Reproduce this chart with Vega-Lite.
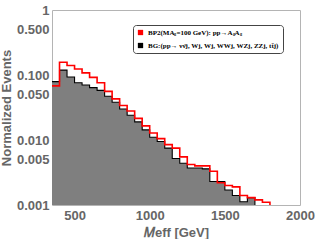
{
  "$schema": "https://vega.github.io/schema/vega-lite/v6.json",
  "width": 248,
  "height": 195,
  "padding": {"left": 0, "top": 4, "right": 0, "bottom": 0},
  "background": "white",
  "config": {
    "view": {"stroke": "#b4b4b4", "strokeWidth": 1},
    "axis": {
      "domain": false,
      "grid": false,
      "ticks": false,
      "labelFont": "Liberation Sans",
      "labelFontWeight": "bold",
      "labelFontSize": 13,
      "labelColor": "#666666",
      "titleFont": "Liberation Sans",
      "titleFontWeight": "bold",
      "titleFontSize": 13,
      "titleColor": "#666666"
    }
  },
  "data": {
    "values": [
      {"k": "BP2", "s": "BP2(MAₛ=100 GeV): pp→AₛAₛ", "lo": 350, "v": 0.068},
      {"k": "BP2", "s": "BP2(MAₛ=100 GeV): pp→AₛAₛ", "lo": 400, "v": 0.157},
      {"k": "BP2", "s": "BP2(MAₛ=100 GeV): pp→AₛAₛ", "lo": 450, "v": 0.140},
      {"k": "BP2", "s": "BP2(MAₛ=100 GeV): pp→AₛAₛ", "lo": 500, "v": 0.124},
      {"k": "BP2", "s": "BP2(MAₛ=100 GeV): pp→AₛAₛ", "lo": 550, "v": 0.108},
      {"k": "BP2", "s": "BP2(MAₛ=100 GeV): pp→AₛAₛ", "lo": 600, "v": 0.092},
      {"k": "BP2", "s": "BP2(MAₛ=100 GeV): pp→AₛAₛ", "lo": 650, "v": 0.076},
      {"k": "BP2", "s": "BP2(MAₛ=100 GeV): pp→AₛAₛ", "lo": 700, "v": 0.056},
      {"k": "BP2", "s": "BP2(MAₛ=100 GeV): pp→AₛAₛ", "lo": 750, "v": 0.043},
      {"k": "BP2", "s": "BP2(MAₛ=100 GeV): pp→AₛAₛ", "lo": 800, "v": 0.034},
      {"k": "BP2", "s": "BP2(MAₛ=100 GeV): pp→AₛAₛ", "lo": 850, "v": 0.028},
      {"k": "BP2", "s": "BP2(MAₛ=100 GeV): pp→AₛAₛ", "lo": 900, "v": 0.0215},
      {"k": "BP2", "s": "BP2(MAₛ=100 GeV): pp→AₛAₛ", "lo": 950, "v": 0.0165},
      {"k": "BP2", "s": "BP2(MAₛ=100 GeV): pp→AₛAₛ", "lo": 1000, "v": 0.0128},
      {"k": "BP2", "s": "BP2(MAₛ=100 GeV): pp→AₛAₛ", "lo": 1050, "v": 0.0105},
      {"k": "BP2", "s": "BP2(MAₛ=100 GeV): pp→AₛAₛ", "lo": 1100, "v": 0.0085},
      {"k": "BP2", "s": "BP2(MAₛ=100 GeV): pp→AₛAₛ", "lo": 1150, "v": 0.0075},
      {"k": "BP2", "s": "BP2(MAₛ=100 GeV): pp→AₛAₛ", "lo": 1200, "v": 0.0055},
      {"k": "BP2", "s": "BP2(MAₛ=100 GeV): pp→AₛAₛ", "lo": 1250, "v": 0.0042},
      {"k": "BP2", "s": "BP2(MAₛ=100 GeV): pp→AₛAₛ", "lo": 1300, "v": 0.0040},
      {"k": "BP2", "s": "BP2(MAₛ=100 GeV): pp→AₛAₛ", "lo": 1350, "v": 0.0040},
      {"k": "BP2", "s": "BP2(MAₛ=100 GeV): pp→AₛAₛ", "lo": 1400, "v": 0.0033},
      {"k": "BP2", "s": "BP2(MAₛ=100 GeV): pp→AₛAₛ", "lo": 1450, "v": 0.0022},
      {"k": "BP2", "s": "BP2(MAₛ=100 GeV): pp→AₛAₛ", "lo": 1500, "v": 0.0020},
      {"k": "BP2", "s": "BP2(MAₛ=100 GeV): pp→AₛAₛ", "lo": 1550, "v": 0.0019},
      {"k": "BP2", "s": "BP2(MAₛ=100 GeV): pp→AₛAₛ", "lo": 1600, "v": 0.0014},
      {"k": "BP2", "s": "BP2(MAₛ=100 GeV): pp→AₛAₛ", "lo": 1650, "v": 0.0013},
      {"k": "BP2", "s": "BP2(MAₛ=100 GeV): pp→AₛAₛ", "lo": 1700, "v": 0.0012},
      {"k": "BP2", "s": "BP2(MAₛ=100 GeV): pp→AₛAₛ", "lo": 1750, "v": 0.0011},
      {"k": "BP2", "s": "BP2(MAₛ=100 GeV): pp→AₛAₛ", "lo": 1800, "v": 0.001},
      {"k": "BG", "s": "BG:(pp→ νν̄j, Wj, Wj, WWj, WZj, ZZj, tt̄j)", "lo": 350, "v": 0.079},
      {"k": "BG", "s": "BG:(pp→ νν̄j, Wj, Wj, WWj, WZj, ZZj, tt̄j)", "lo": 400, "v": 0.119},
      {"k": "BG", "s": "BG:(pp→ νν̄j, Wj, Wj, WWj, WZj, ZZj, tt̄j)", "lo": 450, "v": 0.093},
      {"k": "BG", "s": "BG:(pp→ νν̄j, Wj, Wj, WWj, WZj, ZZj, tt̄j)", "lo": 500, "v": 0.076},
      {"k": "BG", "s": "BG:(pp→ νν̄j, Wj, Wj, WWj, WZj, ZZj, tt̄j)", "lo": 550, "v": 0.070},
      {"k": "BG", "s": "BG:(pp→ νν̄j, Wj, Wj, WWj, WZj, ZZj, tt̄j)", "lo": 600, "v": 0.064},
      {"k": "BG", "s": "BG:(pp→ νν̄j, Wj, Wj, WWj, WZj, ZZj, tt̄j)", "lo": 650, "v": 0.058},
      {"k": "BG", "s": "BG:(pp→ νν̄j, Wj, Wj, WWj, WZj, ZZj, tt̄j)", "lo": 700, "v": 0.047},
      {"k": "BG", "s": "BG:(pp→ νν̄j, Wj, Wj, WWj, WZj, ZZj, tt̄j)", "lo": 750, "v": 0.038},
      {"k": "BG", "s": "BG:(pp→ νν̄j, Wj, Wj, WWj, WZj, ZZj, tt̄j)", "lo": 800, "v": 0.030},
      {"k": "BG", "s": "BG:(pp→ νν̄j, Wj, Wj, WWj, WZj, ZZj, tt̄j)", "lo": 850, "v": 0.024},
      {"k": "BG", "s": "BG:(pp→ νν̄j, Wj, Wj, WWj, WZj, ZZj, tt̄j)", "lo": 900, "v": 0.019},
      {"k": "BG", "s": "BG:(pp→ νν̄j, Wj, Wj, WWj, WZj, ZZj, tt̄j)", "lo": 950, "v": 0.0143},
      {"k": "BG", "s": "BG:(pp→ νν̄j, Wj, Wj, WWj, WZj, ZZj, tt̄j)", "lo": 1000, "v": 0.011},
      {"k": "BG", "s": "BG:(pp→ νν̄j, Wj, Wj, WWj, WZj, ZZj, tt̄j)", "lo": 1050, "v": 0.0095},
      {"k": "BG", "s": "BG:(pp→ νν̄j, Wj, Wj, WWj, WZj, ZZj, tt̄j)", "lo": 1100, "v": 0.0075},
      {"k": "BG", "s": "BG:(pp→ νν̄j, Wj, Wj, WWj, WZj, ZZj, tt̄j)", "lo": 1150, "v": 0.0052},
      {"k": "BG", "s": "BG:(pp→ νν̄j, Wj, Wj, WWj, WZj, ZZj, tt̄j)", "lo": 1200, "v": 0.0044},
      {"k": "BG", "s": "BG:(pp→ νν̄j, Wj, Wj, WWj, WZj, ZZj, tt̄j)", "lo": 1250, "v": 0.0037},
      {"k": "BG", "s": "BG:(pp→ νν̄j, Wj, Wj, WWj, WZj, ZZj, tt̄j)", "lo": 1300, "v": 0.0037},
      {"k": "BG", "s": "BG:(pp→ νν̄j, Wj, Wj, WWj, WZj, ZZj, tt̄j)", "lo": 1350, "v": 0.0036},
      {"k": "BG", "s": "BG:(pp→ νν̄j, Wj, Wj, WWj, WZj, ZZj, tt̄j)", "lo": 1400, "v": 0.0023},
      {"k": "BG", "s": "BG:(pp→ νν̄j, Wj, Wj, WWj, WZj, ZZj, tt̄j)", "lo": 1450, "v": 0.0023},
      {"k": "BG", "s": "BG:(pp→ νν̄j, Wj, Wj, WWj, WZj, ZZj, tt̄j)", "lo": 1500, "v": 0.0017},
      {"k": "BG", "s": "BG:(pp→ νν̄j, Wj, Wj, WWj, WZj, ZZj, tt̄j)", "lo": 1550, "v": 0.0014},
      {"k": "BG", "s": "BG:(pp→ νν̄j, Wj, Wj, WWj, WZj, ZZj, tt̄j)", "lo": 1600, "v": 0.00112},
      {"k": "BG", "s": "BG:(pp→ νν̄j, Wj, Wj, WWj, WZj, ZZj, tt̄j)", "lo": 1650, "v": 0.0013},
      {"k": "BG", "s": "BG:(pp→ νν̄j, Wj, Wj, WWj, WZj, ZZj, tt̄j)", "lo": 1700, "v": 0.001}
    ]
  },
  "encoding": {
    "x": {
      "field": "lo",
      "type": "quantitative",
      "scale": {"domain": [350, 2000], "nice": false, "zero": false},
      "axis": {"values": [500, 1000, 1500, 2000], "format": "d", "title": "𝑀eff [GeV]", "labelPadding": 4, "titlePadding": 4, "labelFlush": false}
    },
    "y": {
      "field": "v",
      "type": "quantitative",
      "scale": {"type": "log", "domain": [0.001, 1], "nice": false},
      "axis": {
        "values": [0.001, 0.005, 0.01, 0.05, 0.1, 0.5, 1],
        "labelExpr": "datum.value >= 1 ? '1' : format(datum.value, '.3f')",
        "title": "Normalized Events",
        "labelPadding": 3,
        "titlePadding": 3
      }
    },
    "color": {
      "field": "s",
      "type": "nominal",
      "scale": {
        "domain": ["BP2(MAₛ=100 GeV): pp→AₛAₛ", "BG:(pp→ νν̄j, Wj, Wj, WWj, WZj, ZZj, tt̄j)"],
        "range": ["#ff0000", "#000000"]
      },
      "legend": {
        "title": null,
        "orient": "none",
        "legendX": 81,
        "legendY": 15,
        "symbolType": "square",
        "symbolSize": 28,
        "symbolStrokeWidth": 0,
        "labelFont": "Liberation Serif",
        "labelFontWeight": "bold",
        "labelFontSize": 7,
        "labelColor": "#000000",
        "labelLimit": 300,
        "strokeColor": "#444444",
        "cornerRadius": 3,
        "padding": 4,
        "rowPadding": 5,
        "fillColor": "white",
        "encode": {"symbols": {"update": {"fill": {"scale": "color", "field": "value"}, "fillOpacity": {"value": 1}}}}
      }
    }
  },
  "layer": [
    {
      "transform": [{"filter": "datum.k == 'BG'"}],
      "mark": {"type": "area", "interpolate": "step-after", "color": "#7f7f7f", "opacity": 1},
      "encoding": {"y2": {"datum": 0.001}, "color": {"value": "#7f7f7f"}}
    },
    {
      "transform": [{"filter": "datum.k == 'BG'"}],
      "mark": {"type": "line", "interpolate": "step-after", "strokeWidth": 1.1},
      "encoding": {"order": {"field": "lo"}}
    },
    {
      "transform": [{"filter": "datum.k == 'BP2'"}],
      "mark": {"type": "line", "interpolate": "step-after", "strokeWidth": 1.6},
      "encoding": {"order": {"field": "lo"}}
    }
  ]
}
